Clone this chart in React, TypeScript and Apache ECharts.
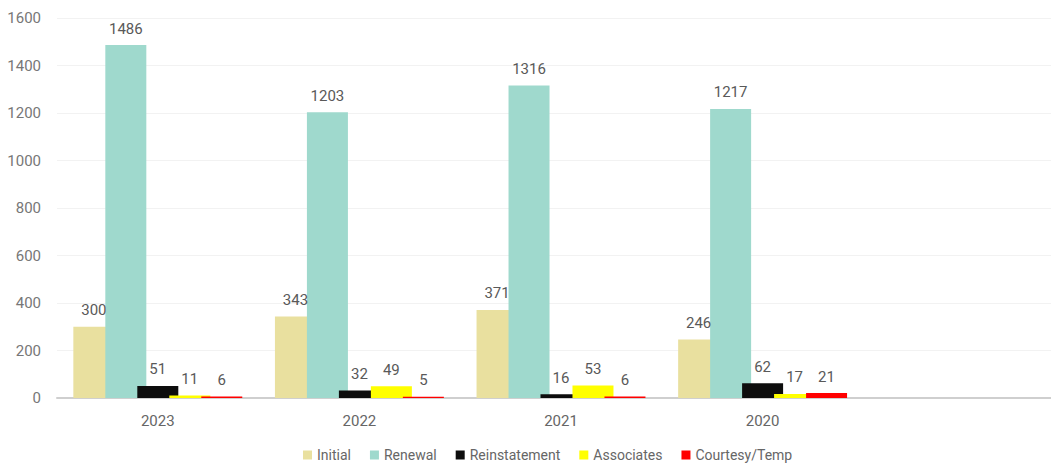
import React, { useEffect, useRef } from "react";
import * as echarts from "echarts";

const categories = ["2023", "2022", "2021", "2020", ""];
const initial = [300, 343, 371, 246, null];
const renewal = [1486, 1203, 1316, 1217, null];
const reinstatement = [51, 32, 16, 62, null];
const associates = [11, 49, 53, 17, null];
const courtesy = [6, 5, 6, 21, null];

const FONT = "Roboto, sans-serif";

export default function App() {
  const ref = useRef<HTMLDivElement>(null);
  useEffect(() => {
    if (!ref.current) return;
    const chart = echarts.init(ref.current, null, { renderer: "svg" });
    const mk = (name: string, data: any[], color: string) => ({
      name,
      type: "bar",
      data,
      barWidth: 41,
      barGap: "-22%",
      itemStyle: { color },
      label: {
        show: true,
        position: "top",
        distance: 9,
        color: "#595959",
        fontSize: 15,
        fontFamily: FONT,
      },
    });
    chart.setOption({
      animation: false,
      textStyle: { fontFamily: FONT },
      grid: { left: 57, right: 0, top: 18, bottom: 65 },
      legend: {
        left: 298,
        top: 443,
        itemWidth: 9,
        itemHeight: 9,
        itemGap: 19,
        icon: "rect",
        textStyle: { color: "#666", fontSize: 14, fontFamily: FONT },
      },
      xAxis: {
        type: "category",
        data: categories,
        axisLine: { lineStyle: { color: "#cfcfcf", width: 2 } },
        axisTick: { show: false },
        axisLabel: { color: "#666", fontSize: 15, margin: 15, fontFamily: FONT },
      },
      yAxis: {
        type: "value",
        min: 0,
        max: 1600,
        interval: 200,
        axisLine: { show: false },
        axisTick: { show: false },
        splitLine: { lineStyle: { color: "#f2f2f2" } },
        axisLabel: {
          color: "#777",
          fontSize: 15,
          margin: 16,
          fontFamily: FONT,
          formatter: (v: number) => String(v),
        },
      },
      series: [
        mk("Initial", initial, "#E9E09F"),
        mk("Renewal", renewal, "#9FD9CD"),
        mk("Reinstatement", reinstatement, "#0D0D0D"),
        mk("Associates", associates, "#FFFF00"),
        mk("Courtesy/Temp", courtesy, "#FF0000"),
      ],
    });
    return () => chart.dispose();
  }, []);
  return (
    <div
      style={{
        position: "fixed",
        left: 0,
        top: 0,
        width: 1051,
        height: 463,
        overflow: "hidden",
        background: "#fff",
      }}
    >
      <div ref={ref} style={{ width: 1065, height: 463 }} />
    </div>
  );
}
